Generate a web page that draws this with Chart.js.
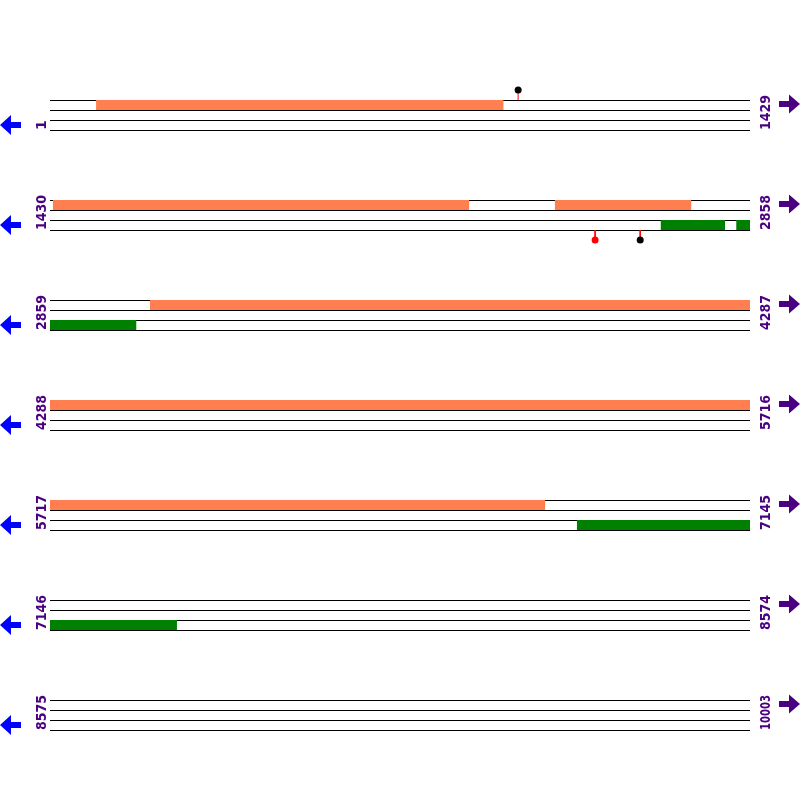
<!DOCTYPE html>
<html><head><meta charset="utf-8">
<script src="https://cdn.jsdelivr.net/npm/chart.js@4"></script>
<style>html,body{margin:0;padding:0;background:#fff}#wrap{width:800px;height:800px}</style>
</head><body><div id="wrap"><canvas id="c" width="800" height="800"></canvas></div>
<script>
// ---- data ----
const rowStarts = [1, 1430, 2859, 4288, 5717, 7146, 8575];
const rowEnds   = [1429, 2858, 4287, 5716, 7145, 8574, 10003];
const fwdStarts = [95, 1436, 2460, 3063];
const fwdEnds   = [926, 2285, 2738, 6727];
const revStarts = [2676, 2830, 6792];
const revEnds   = [2807, 3035, 7405];
const lolliPos    = [956, 2542, 2634];
const lolliStrand = ['+', '-', '-'];
const lolliColors = ['#000000', '#ff0000', '#000000'];

// ---- layout / style constants ----
const ROW_TOP = 100, ROW_GAP = 100, LANE = 10, STEM = 10;
const FWD_COLOR = '#ff7f50', REV_COLOR = '#008000', TEXT_COLOR = '#4b0082';
const SPAN = rowEnds[0] - rowStarts[0];

function rowTop(i){ return ROW_TOP + ROW_GAP * i; }

const datasets = [];
// backbone lines
rowStarts.forEach((s, i) => {
  for (let k = 0; k < 4; k++) {
    const y = rowTop(i) + k * LANE + 0.5;
    datasets.push({data:[{x:0,y:y},{x:SPAN,y:y}], showLine:true, borderColor:'#000', borderWidth:1,
      pointRadius:0, borderCapStyle:'butt', order:4});
  }
});
// features split across rows
function addFeatures(starts, ends, color, laneOffset){
  starts.forEach((a, f) => {
    const b = ends[f];
    rowStarts.forEach((rs, i) => {
      const re = rowEnds[i];
      const s = Math.max(a, rs), e = Math.min(b, re);
      if (s <= e) {
        const y = rowTop(i) + laneOffset;
        datasets.push({data:[{x:s-rs,y:y},{x:e-rs,y:y}], showLine:true, borderColor:color,
          borderWidth:LANE, pointRadius:0, borderCapStyle:'butt', order:3});
      }
    });
  });
}
addFeatures(fwdStarts, fwdEnds, FWD_COLOR, LANE/2);
addFeatures(revStarts, revEnds, REV_COLOR, 2*LANE + LANE/2);
// lollipops
const dots = [];
lolliPos.forEach((p, j) => {
  let i = rowStarts.findIndex((rs, k) => p >= rs && p <= rowEnds[k]);
  const x = p - rowStarts[i];
  let y0, y1;
  if (lolliStrand[j] === '+') { y0 = rowTop(i); y1 = y0 - STEM; }
  else { y0 = rowTop(i) + 3*LANE; y1 = y0 + STEM; }
  datasets.push({data:[{x:x,y:y0},{x:x,y:y1}], showLine:true, borderColor:'#ff0000', borderWidth:1,
    pointRadius:0, order:2});
  dots.push({x:x, y:y1, c:lolliColors[j]});
});
datasets.push({data:dots.map(d=>({x:d.x,y:d.y})), showLine:false, pointRadius:3.5,
  pointBackgroundColor:dots.map(d=>d.c), pointBorderColor:dots.map(d=>d.c), pointBorderWidth:0, order:1});

const labelsPlugin = {
  id:'labels',
  afterDraw(chart){
    const ctx = chart.ctx, ys = chart.scales.y, xs = chart.scales.x;
    ctx.save();
    ctx.font = 'bold 14px "DejaVu Sans"';
    ctx.textAlign = 'left';
    ctx.textBaseline = 'alphabetic';
    rowStarts.forEach((rs, i) => {
      const yb = ys.getPixelForValue(rowTop(i) + 3*LANE);
      ctx.fillStyle = TEXT_COLOR;
      [[xs.left - 4, String(rs)], [xs.right + 20, String(rowEnds[i])]].forEach(([x, t]) => {
        const w = ctx.measureText(t).width;
        const sx = w > 35 ? 35 / w : 1;
        ctx.save(); ctx.translate(x, yb); ctx.rotate(-Math.PI/2); ctx.scale(sx, 1);
        ctx.fillText(t, 0, 0); ctx.restore();
      });
      // left (reverse) arrow
      const yl = ys.getPixelForValue(rowTop(i) + 2.5*LANE);
      ctx.fillStyle = '#0000ff';
      ctx.beginPath();
      ctx.moveTo(0, yl); ctx.lineTo(11, yl-10); ctx.lineTo(11, yl-3); ctx.lineTo(21, yl-3);
      ctx.lineTo(21, yl+3); ctx.lineTo(11, yl+3); ctx.lineTo(11, yl+10); ctx.closePath(); ctx.fill();
      // right (forward) arrow
      const yr = ys.getPixelForValue(rowTop(i) + 0.4*LANE);
      ctx.fillStyle = TEXT_COLOR;
      ctx.beginPath();
      ctx.moveTo(800, yr); ctx.lineTo(789, yr-9.5); ctx.lineTo(789, yr-3); ctx.lineTo(779, yr-3);
      ctx.lineTo(779, yr+3); ctx.lineTo(789, yr+3); ctx.lineTo(789, yr+9.5); ctx.closePath(); ctx.fill();
    });
    ctx.restore();
  }
};

new Chart(document.getElementById('c'), {
  type:'scatter',
  data:{datasets:datasets},
  options:{
    responsive:false, animation:false, devicePixelRatio:1,
    layout:{autoPadding:false, padding:{left:50, right:50, top:0, bottom:0}},
    plugins:{legend:{display:false}, tooltip:{enabled:false}},
    scales:{
      x:{type:'linear', min:0, max:SPAN, display:false},
      y:{type:'linear', min:0, max:800, reverse:true, display:false}
    },
    elements:{line:{tension:0}}
  },
  plugins:[labelsPlugin]
});
</script></body></html>
